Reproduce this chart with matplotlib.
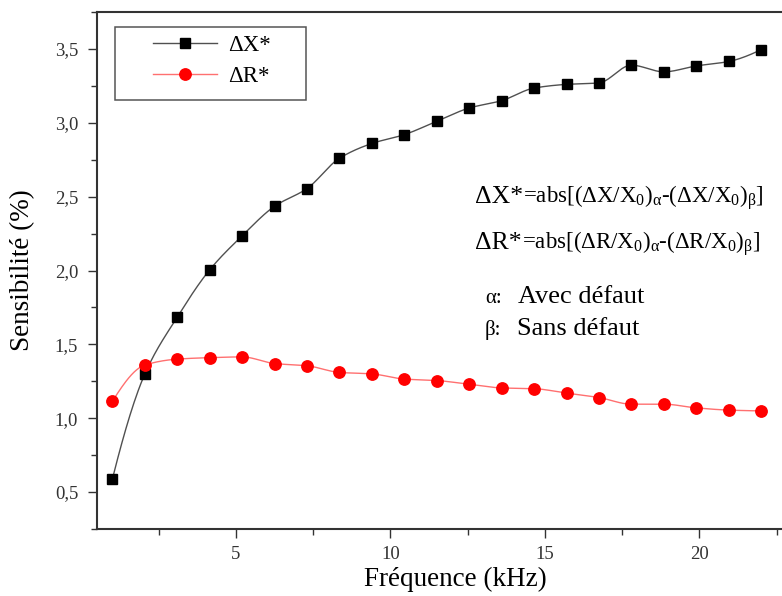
import numpy as np
import matplotlib
matplotlib.use("Agg")
import matplotlib.pyplot as plt
from matplotlib.patches import Rectangle
from matplotlib.ticker import MultipleLocator, FixedLocator, FixedFormatter
from matplotlib.transforms import offset_copy

# Sensitivity of the eddy-current probe versus excitation frequency
freq_khz = [1.0, 2.05, 3.1, 4.15, 5.2, 6.25, 7.3, 8.35, 9.4, 10.45, 11.5,
            12.55, 13.6, 14.65, 15.7, 16.75, 17.8, 18.85, 19.9, 20.95, 22.0]
delta_x = [0.59, 1.30, 1.685, 2.005, 2.235, 2.435, 2.555, 2.76, 2.86, 2.92, 3.01,
           3.10, 3.15, 3.235, 3.26, 3.27, 3.39, 3.345, 3.385, 3.415, 3.495]
delta_r = [1.115, 1.36, 1.40, 1.41, 1.415, 1.37, 1.355, 1.31, 1.30, 1.265, 1.255,
           1.23, 1.205, 1.20, 1.17, 1.14, 1.095, 1.095, 1.07, 1.055, 1.05]

series_labels = ["ΔX*", "ΔR*"]
ytick_values = [0.5, 1.0, 1.5, 2.0, 2.5, 3.0, 3.5]
ytick_labels = ["0,5", "1,0", "1,5", "2,0", "2,5", "3,0", "3,5"]
xtick_values = [5, 10, 15, 20]
xtick_labels = ["5", "10", "15", "20"]

plt.rcParams["font.family"] = ["Liberation Serif", "DejaVu Serif"]
plt.rcParams["mathtext.fontset"] = "custom"
plt.rcParams["mathtext.rm"] = "Liberation Serif"
plt.rcParams["mathtext.it"] = "Liberation Serif"
plt.rcParams["mathtext.bf"] = "Liberation Serif:bold"


def smooth_path(x, y, per_seg=24):
    """Monotone cubic (PCHIP) curve through the measured points."""
    x = np.asarray(x, float)
    y = np.asarray(y, float)
    h = np.diff(x)
    d = np.diff(y) / h
    m = np.zeros_like(y)
    for k in range(1, len(x) - 1):
        if d[k - 1] * d[k] > 0:
            w1 = 2 * h[k] + h[k - 1]
            w2 = h[k] + 2 * h[k - 1]
            m[k] = (w1 + w2) / (w1 / d[k - 1] + w2 / d[k])
    for (i, a, b, ha, hb) in ((0, 0, 1, h[0], h[1]), (-1, -1, -2, h[-1], h[-2])):
        e = ((2 * ha + hb) * d[a] - ha * d[b]) / (ha + hb)
        if np.sign(e) != np.sign(d[a]):
            e = 0.0
        elif np.sign(d[a]) != np.sign(d[b]) and abs(e) > abs(3 * d[a]):
            e = 3 * d[a]
        m[i] = e
    xs, ys = [], []
    for k in range(len(x) - 1):
        t = np.linspace(0, 1, per_seg, endpoint=(k == len(x) - 2))
        h00 = 2 * t**3 - 3 * t**2 + 1
        h10 = t**3 - 2 * t**2 + t
        h01 = -2 * t**3 + 3 * t**2
        h11 = t**3 - t**2
        xs.append(x[k] + t * h[k])
        ys.append(h00 * y[k] + h10 * h[k] * m[k] + h01 * y[k + 1] + h11 * h[k] * m[k + 1])
    return np.concatenate(xs), np.concatenate(ys)


W, H = 782, 596
fig = plt.figure(figsize=(W / 100, H / 100), dpi=100)
ax = fig.add_axes([97 / W, (H - 529) / H, 695 / W, 517 / H])

# curves
sx, sy = smooth_path(freq_khz, delta_x)
ax.plot(sx, sy, color="#505050", lw=1.0, zorder=2)
rx, ry = smooth_path(freq_khz, delta_r)
ax.plot(rx, ry, color="#ff7070", lw=1.0, zorder=2)

# markers
ax.plot(freq_khz, delta_x, ls="none", marker="s", ms=7.6, color="black", zorder=3)
ax.plot(freq_khz, delta_r, ls="none", marker="o", ms=8.2, color="#ff0000", zorder=3)

ax.set_xlim(0.5, 23.0)
ax.set_ylim(0.25, 3.75)

ax.xaxis.set_major_locator(FixedLocator(xtick_values))
ax.xaxis.set_major_formatter(FixedFormatter(xtick_labels))
ax.xaxis.set_minor_locator(MultipleLocator(2.5))
ax.yaxis.set_major_locator(FixedLocator(ytick_values))
ax.yaxis.set_major_formatter(FixedFormatter(ytick_labels))
ax.yaxis.set_minor_locator(MultipleLocator(0.25))

spine_col = "#333333"
for side in ("left", "bottom", "top"):
    ax.spines[side].set_linewidth(1.5)
    ax.spines[side].set_color(spine_col)
ax.spines["right"].set_visible(False)

ax.tick_params(which="both", direction="out", color=spine_col, width=1.0,
               top=False, right=False)
ax.tick_params(which="major", length=6.5, labelsize=13.5, labelcolor="#333333")
ax.tick_params(axis="y", which="major", pad=7)
ax.tick_params(axis="x", which="major", pad=6)
ax.tick_params(which="minor", length=4.3)

ax.set_xlabel("Fréquence (kHz)", fontsize=19.5)
ax.set_ylabel("Sensibilité (%)", fontsize=19.5)
ax.xaxis.set_label_coords((455 - 97) / 695, (529 - 567) / 517)
ax.yaxis.set_label_coords((35 - 97) / 695, 0.5)

# legend
handles = [
    plt.Line2D([], [], color="#505050", lw=1.0, marker="s", ms=7.6,
               mfc="black", mec="black"),
    plt.Line2D([], [], color="#ff7070", lw=1.0, marker="o", ms=8.2,
               mfc="#ff0000", mec="#ff0000"),
]
leg = ax.legend(handles, series_labels, loc="upper left",
                bbox_to_anchor=((153 - 97) / 695, (529 - 35) / 517),
                frameon=False, fontsize=16.5, handlelength=2.8,
                handletextpad=0.48, labelspacing=0.45, borderpad=0.0,
                borderaxespad=0.0, numpoints=1)
ax.add_patch(Rectangle(((115 - 97) / 695, (529 - 100) / 517),
                       (306 - 115) / 695, (100 - 27) / 517,
                       transform=ax.transAxes, fill=False,
                       edgecolor="#555555", lw=1.1, zorder=4))

# formula and legend notes, laid out as runs of text sharing a baseline
fig.canvas.draw()
renderer = fig.canvas.get_renderer()


def text_run(x_px, y_px, parts):
    trans = fig.transFigure
    for s, size in parts:
        t = fig.text(x_px / W, 1 - y_px / H, s, fontsize=size, transform=trans,
                     ha="left", va="baseline", color="black")
        ext = t.get_window_extent(renderer)
        trans = offset_copy(trans, fig=fig, x=ext.width, units="dots")


text_run(475, 203, [("ΔX*", 18.5),
                    (r"=abs[(ΔX/X$_0$)$_α$-(ΔX/X$_0$)$_β$]", 16.5)])
text_run(475, 249, [("ΔR*", 18.5),
                    (r"=abs[(ΔR/X$_0$)$_α$-(ΔR/X$_0$)$_β$]", 16.5)])
fig.text(485 / W, 1 - 303 / H, "α:", fontsize=15, va="baseline")
fig.text(518 / W, 1 - 303 / H, "Avec défaut", fontsize=19, va="baseline")
fig.text(485 / W, 1 - 335 / H, "β:", fontsize=15, va="baseline")
fig.text(517 / W, 1 - 335 / H, "Sans défaut", fontsize=19, va="baseline")

fig.savefig("out.png", dpi=100)
